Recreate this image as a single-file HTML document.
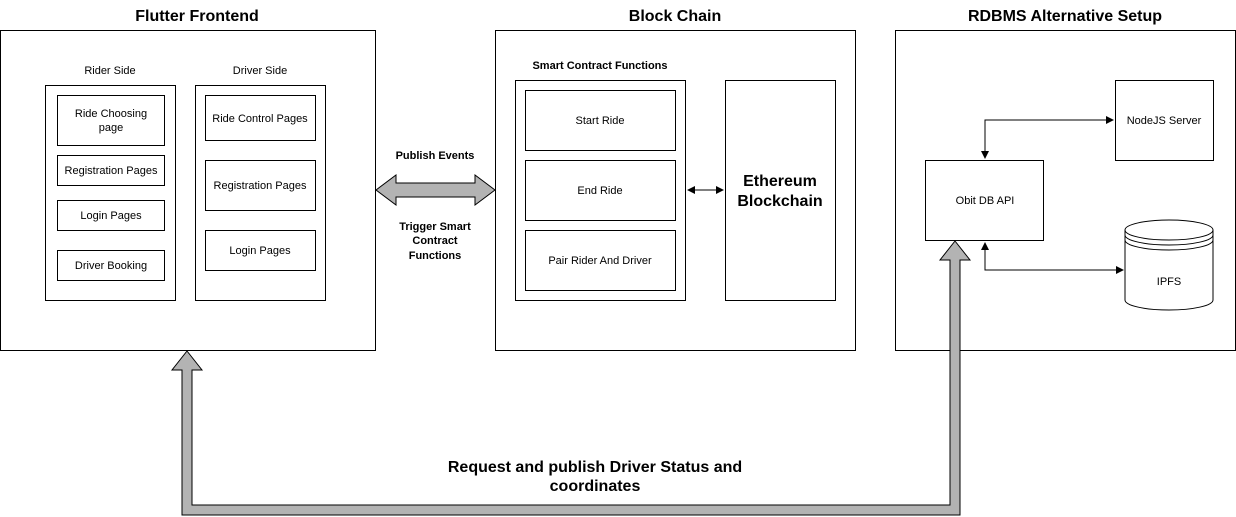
<!DOCTYPE html>
<html><head><style>body{margin:0;background:#fff}svg{display:block}text{font-family:"Liberation Sans",Arial,sans-serif}</style></head><body>
<svg width="1236" height="517" xmlns="http://www.w3.org/2000/svg">
<defs><marker id="a" markerWidth="8" markerHeight="8" refX="7" refY="4" orient="auto" markerUnits="userSpaceOnUse"><path d="M0,0 L8,4 L0,8 z" fill="#000"/></marker>
<marker id="s" markerWidth="8" markerHeight="8" refX="1" refY="4" orient="auto" markerUnits="userSpaceOnUse"><path d="M8,0 L0,4 L8,8 z" fill="#000"/></marker></defs>
<g fill="none" stroke="#000" stroke-width="1">
<rect x="0.5" y="30.5" width="375" height="320"/>
<rect x="495.5" y="30.5" width="360" height="320"/>
<rect x="895.5" y="30.5" width="340" height="320"/>
<rect x="45.5" y="85.5" width="130" height="215"/>
<rect x="195.5" y="85.5" width="130" height="215"/>
<rect x="57.5" y="95.5" width="107" height="50"/>
<rect x="57.5" y="155.5" width="107" height="30"/>
<rect x="57.5" y="200.5" width="107" height="30"/>
<rect x="57.5" y="250.5" width="107" height="30"/>
<rect x="205.5" y="95.5" width="110" height="45"/>
<rect x="205.5" y="160.5" width="110" height="50"/>
<rect x="205.5" y="230.5" width="110" height="40"/>
<rect x="515.5" y="80.5" width="170" height="220"/>
<rect x="525.5" y="90.5" width="150" height="60"/>
<rect x="525.5" y="160.5" width="150" height="60"/>
<rect x="525.5" y="230.5" width="150" height="60"/>
<rect x="725.5" y="80.5" width="110" height="220"/>
<rect x="925.5" y="160.5" width="118" height="80"/>
<rect x="1115.5" y="80.5" width="98" height="80"/>
<path d="M1125,230 A44,10 0 0 1 1213,230 L1213,300 A44,10 0 0 1 1125,300 Z"/>
<path d="M1125,230 A44,10 0 0 0 1213,230 M1125,235 A44,10 0 0 0 1213,235 M1125,240 A44,10 0 0 0 1213,240"/>
<line x1="688" y1="190" x2="723" y2="190" marker-start="url(#s)" marker-end="url(#a)"/>
<polyline points="985,158 985,120 1113,120" marker-start="url(#s)" marker-end="url(#a)"/>
<polyline points="985,243 985,270 1123,270" marker-start="url(#s)" marker-end="url(#a)"/>
</g>
<path d="M376,190 L396,175 L396,183 L475,183 L475,175 L495,190 L475,205 L475,197 L396,197 L396,205 Z" fill="#b3b3b3" stroke="#000"/>
<path d="M187,351 L202,370 L192,370 L192,505 L950,505 L950,260 L940,260 L955,241 L970,260 L960,260 L960,515 L182,515 L182,370 L172,370 Z" fill="#b3b3b3" stroke="#000"/>
<g font-size="16" font-weight="bold" text-anchor="middle">
<text x="197" y="21">Flutter Frontend</text>
<text x="675" y="21">Block Chain</text>
<text x="1065" y="21">RDBMS Alternative Setup</text>
<text x="780" y="186">Ethereum</text><text x="780" y="206">Blockchain</text>
<text x="595" y="472">Request and publish Driver Status and</text>
<text x="595" y="491">coordinates</text>
</g>
<g font-size="11" font-weight="bold" text-anchor="middle">
<text x="435" y="159">Publish Events</text>
<text x="435" y="230">Trigger Smart</text><text x="435" y="244">Contract</text><text x="435" y="259">Functions</text>
<text x="600" y="69">Smart Contract Functions</text>
</g>
<g font-size="11" text-anchor="middle">
<text x="110" y="74">Rider Side</text><text x="260" y="74">Driver Side</text>
<text x="111" y="117">Ride Choosing</text><text x="111" y="131">page</text>
<text x="111" y="174">Registration Pages</text>
<text x="111" y="219">Login Pages</text>
<text x="111" y="269">Driver Booking</text>
<text x="260" y="122">Ride Control Pages</text>
<text x="260" y="189">Registration Pages</text>
<text x="260" y="254">Login Pages</text>
<text x="600" y="124">Start Ride</text>
<text x="600" y="194">End Ride</text>
<text x="600" y="264">Pair Rider And Driver</text>
<text x="985" y="204">Obit DB API</text>
<text x="1164" y="124">NodeJS Server</text>
<text x="1169" y="285">IPFS</text>
</g>
</svg>
</body></html>
